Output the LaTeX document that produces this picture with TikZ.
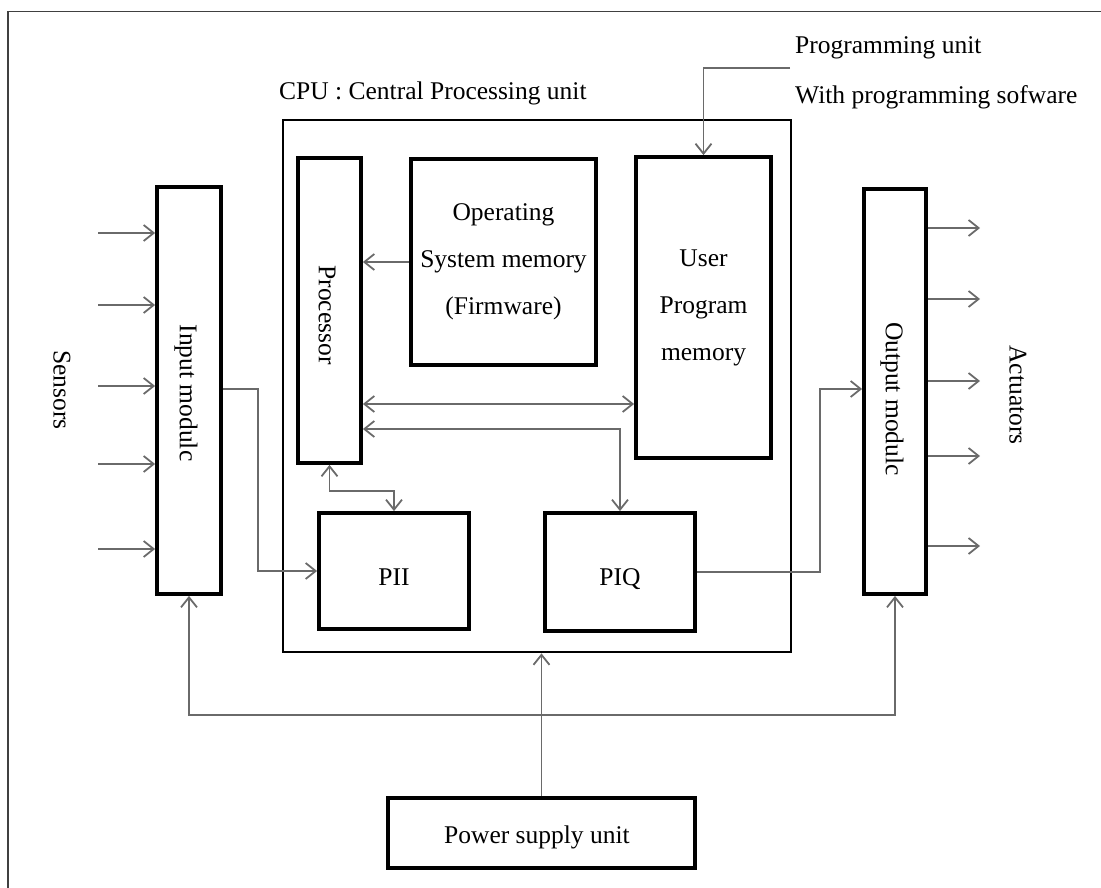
\documentclass[tikz,border=0pt]{standalone}
\usepackage{fontspec}
\setmainfont{Liberation Serif}
\usetikzlibrary{arrows.meta}
\definecolor{cgray}{HTML}{6a6a6a}
\definecolor{fgray}{HTML}{404040}
\tikzset{
  box/.style={draw=black, line width=3.8pt, fill=white, inner sep=0pt, align=center,
    font=\fontsize{25.5}{47}\selectfont},
  lbl/.style={inner sep=0pt, font=\fontsize{25.5}{30}\selectfont},
  conn/.style={draw=cgray, line width=1.8pt},
  arr/.style={conn, -{Straight Barb[length=10pt,width=16pt]}},
  arrb/.style={conn, {Straight Barb[length=10pt,width=16pt]}-{Straight Barb[length=10pt,width=16pt]}},
}
\begin{document}
\begin{tikzpicture}[x=1pt,y=-1pt]
\useasboundingbox (0,0) rectangle (1101,888);
% frame
\draw[fgray, line width=1.6pt] (8,888) -- (8,11.5) -- (1101,11.5);

% CPU
\node[draw=black, line width=2.8pt, minimum width=508pt, minimum height=532pt, inner sep=0pt] (cpu) at (537,386) {};
\node[lbl, anchor=west] (cputitle) at (279,93) {CPU : Central Processing unit};

% boxes
\node[box, minimum width=64pt, minimum height=407pt] (inp) at (189,390.5) {};
\node[lbl, rotate=-90] (inptxt) at (186,393) {Input modulc};
\node[box, minimum width=63pt, minimum height=305pt] (proc) at (329.5,310.5) {};
\node[lbl, rotate=-90] (proctxt) at (327,315) {Processor};
\node[box, minimum width=185pt, minimum height=206pt] (osm) at (503.5,262) {Operating\\System memory\\(Firmware)};
\node[box, minimum width=135pt, minimum height=301pt] (upm) at (703.5,307.5) {User\\Program\\memory};
\node[box, minimum width=150pt, minimum height=116pt] (pii) at (394,571) {};
\node[lbl] (piitxt) at (394,577) {PII};
\node[box, minimum width=150pt, minimum height=118pt] (piq) at (620,572) {};
\node[lbl] (piqtxt) at (620,579) {PIQ};
\node[box, minimum width=62pt, minimum height=405pt] (out) at (895,391.5) {};
\node[lbl, rotate=-90] (outtxt) at (892,399) {Output modulc};
\node[box, minimum width=307pt, minimum height=70pt] (psu) at (541.5,833) {};
\node[lbl] (psutxt) at (537,837) {Power supply unit};

% side labels
\node[lbl, rotate=-90] (sens) at (62,390) {Sensors};
\node[lbl, rotate=-90] (act) at (1018,395) {Actuators};

% programming unit
\node[lbl, anchor=west] (pu1) at (795,48) {Programming unit};
\node[lbl, anchor=west] (pu2) at (795,97) {With programming sofware};
\coordinate (pg) at (790,68);
\draw[arr] (pg) -| (upm.north);

% sensor inputs
\foreach \y [count=\i] in {233,305,386,464,549} {
  \coordinate (s\i) at (98,\y);
  \draw[arr] (s\i) -- (s\i -| inp.west);
}
% actuator outputs
\foreach \y [count=\i] in {228,299,381,456,546} {
  \coordinate (a\i) at (980,\y);
  \draw[arr] (a\i -| out.east) -- (a\i);
}

% internal connections
\draw[arr] (osm.west) -- (osm.west -| proc.east);
\draw[arrb] (proc.east |- 0,404) -- (upm.west |- 0,404);
\draw[arrb] (proc.east |- 0,429) -| (piq.north);
\draw[arrb] (proc.south) -- ++(0,26) -| (pii.north);
\draw[arr] (inp.east |- 0,389) -- (258,389) |- (pii.west);
\draw[arr] (piq.east) -- (820,572) |- (out.west |- 0,389);

% power
\coordinate (bus) at (541.5,715);
\draw[arr] (psu.north) -- (psu.north |- cpu.south);
\draw[arr] (bus) -| (inp.south);
\draw[arr] (bus) -| (out.south);
\end{tikzpicture}
\end{document}
